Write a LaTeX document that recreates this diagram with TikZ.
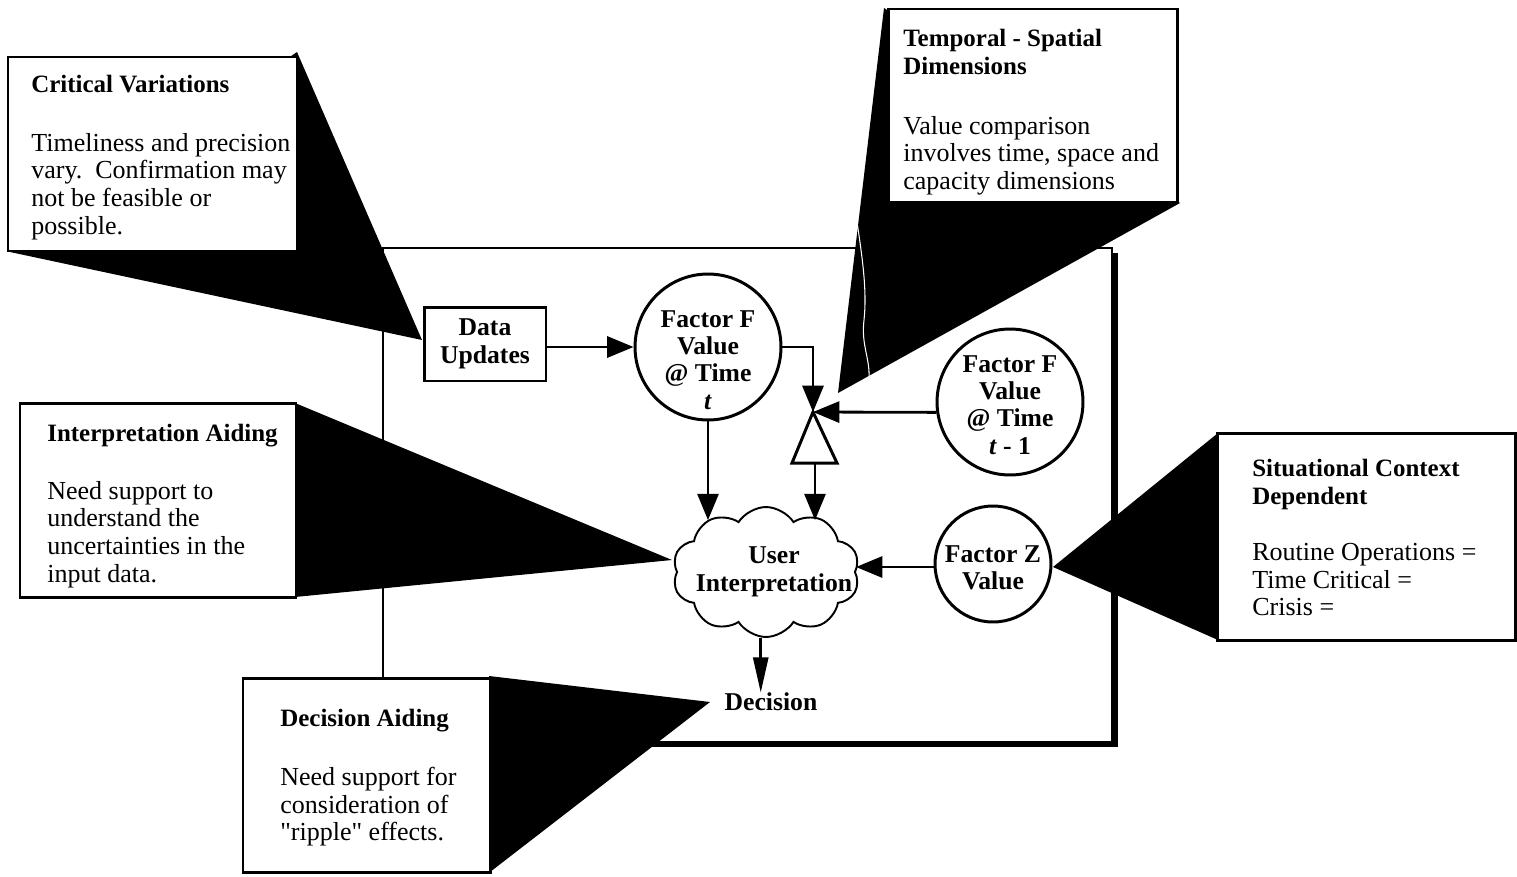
\documentclass[tikz,border=0pt]{standalone}
\usepackage{fontspec}
\setmainfont{Liberation Serif}[Ligatures=TeXOff]
\usetikzlibrary{arrows.meta,shapes.symbols}
\begin{document}
\begin{tikzpicture}[x=0.02cm,y=-0.02cm,
  body/.style={font=\fontsize{14.8}{15.7}\selectfont, align=left, anchor=north west, inner sep=0pt},
  head/.style={font=\fontsize{14.2}{15.7}\selectfont\bfseries, align=left, anchor=north west, inner sep=0pt},
  lbl/.style={font=\fontsize{14.6}{15.6}\selectfont\bfseries, align=center, inner sep=0pt},
  calloutbox/.style={draw, fill=white, line width=1.7pt},
  wedge/.style={fill=black},
  fac/.style={circle, draw, line width=1.7pt, inner sep=0pt},
  conn/.style={line width=1.6pt, -{Triangle[length=15pt,width=12pt]}},
  decarr/.style={line width=1.6pt, -{Triangle[length=20pt,width=8.5pt]}},
]
\useasboundingbox (0,0) rectangle (1517,876);

% ---- main frame with drop shadow on right and bottom
\draw[line width=1.6pt] (383,248) rectangle (1112,742);
\draw[line width=3pt] (1115.5,253) -- (1115.5,744.5) -- (650,744.5);

% ---- process nodes
\node[draw, line width=1.7pt, minimum width=2.44cm, minimum height=1.48cm] (du) at (485,344) {};
\node[lbl] (dul) at (du) {Data\\Updates};

\node[fac, minimum size=2.92cm] (ft) at (708,347) {};
\node[lbl] (ftl) at (708,360) {Factor F\\Value\\@ Time\\\textit{t}};

\node[fac, minimum size=2.92cm] (ftm) at (1010,402) {};
\node[lbl] (ftml) at (1010,405) {Factor F\\Value\\@ Time\\\textit{t} - 1};

\node[fac, minimum size=2.32cm] (fz) at (993,564) {};
\node[lbl] (fzl) at (993,568) {Factor Z\\Value};

\node[cloud, draw, line width=1.1pt, cloud puffs=10, cloud puff arc=115, aspect=1.45,
      minimum width=3.74cm, minimum height=2.6cm, inner sep=0pt] (cl) at (766,572) {};
\node[lbl] (cll) at (774,572) {User\\Interpretation};

\node[lbl] (dec) at (771,702) {Decision};

% comparator triangle
\coordinate (apex) at (813,412);
\coordinate (tribase) at (815,463);
\draw[line width=1.7pt, fill=white] (apex) -- (837,463) -- (792,463) -- cycle;

% ---- connectors
\draw[conn] (du.east |- ft.west) -- (ft.west);
\draw[conn] (ft.east) -| (apex);
\draw[conn] (ftm.188) -- (apex);
\draw[conn, shorten >=-8pt] (ft.south) -- (ft.south |- cl.north);
\draw[conn, shorten >=-8pt] (tribase) -- (tribase |- cl.north);
\draw[conn] (fz.west |- 0,567) -- (cl.east |- 0,567);
\draw[decarr] ([xshift=-3pt]cl.south) -- ([xshift=-3pt]cl.south |- dec.north);

% ---- callouts
% Critical Variations
\coordinate (cvtip) at (422,340);
\fill[wedge] (297,52) -- (cvtip) -- (10,252) -- cycle;
\draw[calloutbox] (8,57) rectangle (297,251);
\node[head] (cvh) at (31,75) {Critical Variations};
\node[body] (cvb) at (31,133) {Timeliness and precision\\vary.\ \ Confirmation may\\not be feasible or\\possible.};

% Temporal - Spatial Dimensions
\coordinate (tstip) at (838,393);
\fill[wedge] (884,8) -- (tstip) -- (1180,203) -- cycle;
\draw[white, line width=0.6pt] (857,222) .. controls (863,262) and (867,292) .. (864,320)
      .. controls (861,345) and (870,358) .. (869,378);
\draw[calloutbox] (888,9) rectangle (1177,202);
\node[head] (tsh) at (903,29) {Temporal - Spatial\\Dimensions};
\node[body] (tsb) at (903,116) {Value comparison\\involves time, space and\\capacity dimensions};

% Interpretation Aiding
\coordinate (iatip) at (672,560);
\fill[wedge] (295,403) -- (iatip) -- (295,597) -- cycle;
\draw[calloutbox] (20,403) rectangle (296,597);
\node[head] (iah) at (47,424) {Interpretation Aiding};
\node[body] (iab) at (47,481) {Need support to\\understand the\\uncertainties in the\\input data.};

% Situational Context Dependent
\coordinate (sctip) at (1053,567);
\fill[wedge] (1218,433) -- (sctip) -- (1218,640) -- cycle;
\draw[calloutbox] (1217,433) rectangle (1515,640);
\node[head] (sch) at (1252,459) {Situational Context\\Dependent};
\node[body] (scb) at (1252,543) {Routine Operations =\\Time Critical =\\Crisis =};

% Decision Aiding
\coordinate (datip) at (710,702);
\fill[wedge] (489,676) -- (datip) -- (490,872) -- cycle;
\draw[calloutbox] (243,678) rectangle (490,872);
\node[head] (dah) at (280,709) {Decision Aiding};
\node[body] (dab) at (280,767) {Need support for\\consideration of\\"ripple" effects.};
\end{tikzpicture}
\end{document}
